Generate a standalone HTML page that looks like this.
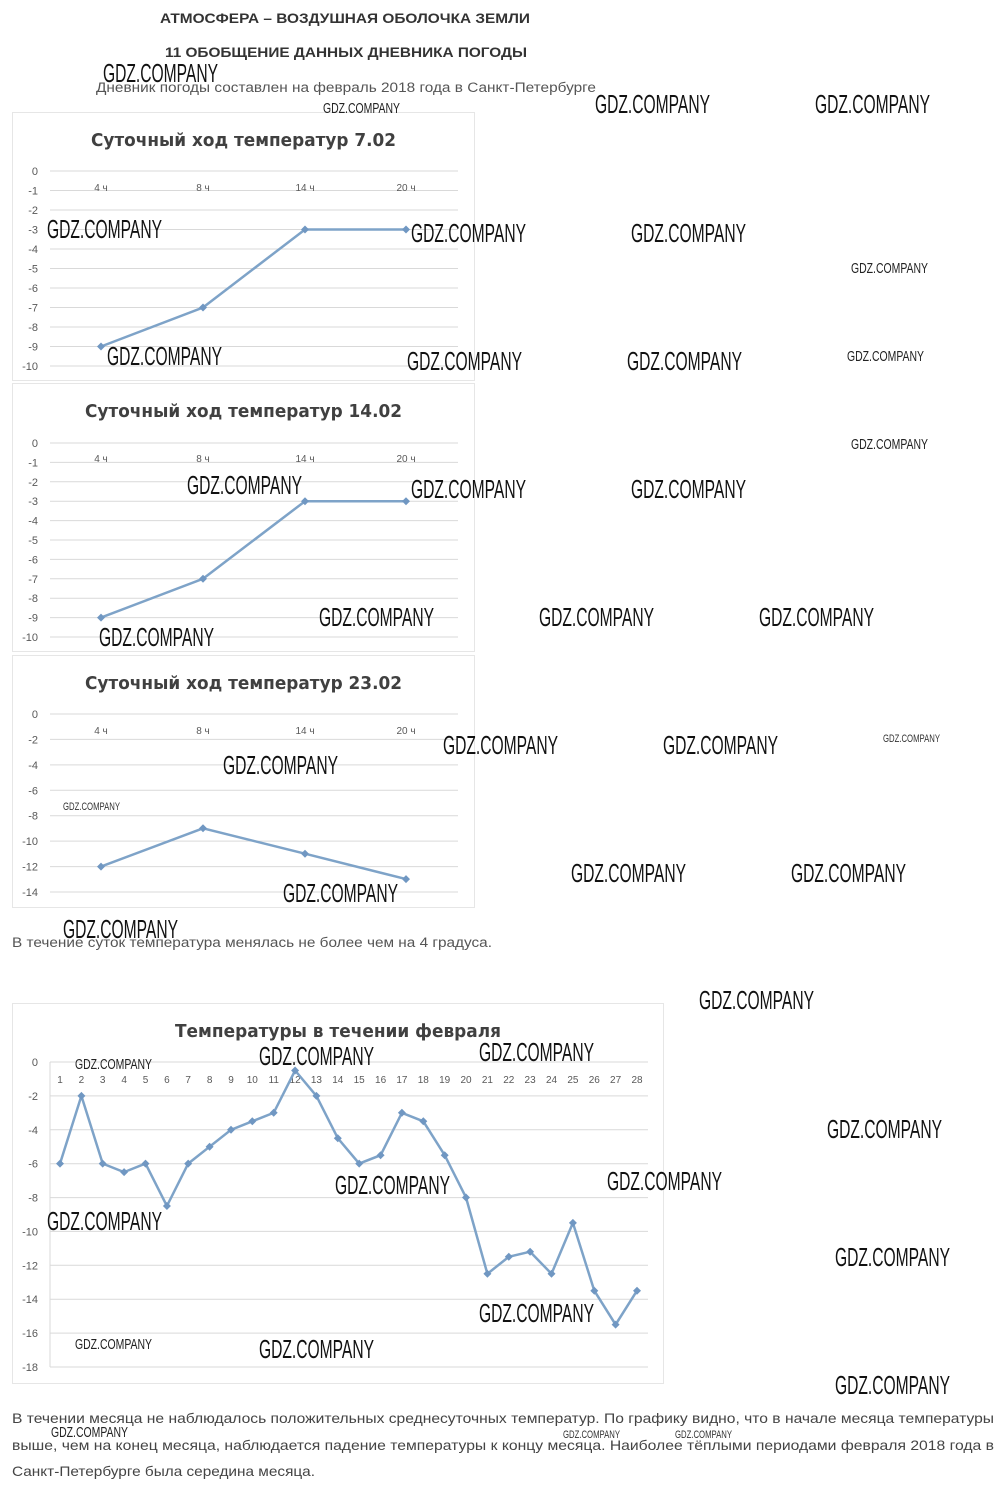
<!DOCTYPE html>
<html><head><meta charset="utf-8"><style>
html,body{margin:0;padding:0;background:#fff;}
svg{display:block;}
.t{font-family:"Liberation Sans",sans-serif;}
.ax{font-family:"Liberation Sans",sans-serif;font-size:11px;fill:#595959;}
.xl{font-family:"Liberation Sans",sans-serif;font-size:10px;fill:#595959;}
.ct{font-family:"DejaVu Sans","Liberation Sans",sans-serif;font-size:18px;font-weight:bold;fill:#404040;}
.wb{font-family:"Liberation Sans",sans-serif;font-size:26px;fill:#111;}
.ws{font-family:"Liberation Sans",sans-serif;font-size:15px;fill:#222;}
.wt{font-family:"Liberation Sans",sans-serif;font-size:11px;fill:#333;}
.g{stroke:#d9d9d9;stroke-width:1;}
.ln{fill:none;stroke:#7ea3c8;stroke-width:2.5;marker-start:url(#d);marker-mid:url(#d);marker-end:url(#d);}
</style></head><body>
<svg width="1000" height="1489" viewBox="0 0 1000 1489" xmlns="http://www.w3.org/2000/svg">
<defs><marker id="d" markerWidth="10" markerHeight="10" refX="5" refY="5" markerUnits="userSpaceOnUse"><path d="M5 1 L9 5 L5 9 L1 5Z" fill="#7097c2"/></marker></defs>

<text class="t" x="160" y="23" font-size="13.5" font-weight="bold" fill="#333" textLength="370" lengthAdjust="spacingAndGlyphs">АТМОСФЕРА – ВОЗДУШНАЯ ОБОЛОЧКА ЗЕМЛИ</text>
<text class="t" x="165" y="57" font-size="13.5" font-weight="bold" fill="#333" textLength="362" lengthAdjust="spacingAndGlyphs">11 ОБОБЩЕНИЕ ДАННЫХ ДНЕВНИКА ПОГОДЫ</text>
<text class="t" x="96" y="92" font-size="13.5" fill="#555" textLength="500" lengthAdjust="spacingAndGlyphs">Дневник погоды составлен на февраль 2018 года в Санкт-Петербурге</text>

<!-- Chart 1 -->
<rect x="12.5" y="112.5" width="462" height="268" fill="none" stroke="#e6e6e6"/>
<text class="ct" x="91" y="146" textLength="305" lengthAdjust="spacingAndGlyphs">Суточный ход температур 7.02</text>
<g class="g">
<line x1="50" y1="171" x2="458" y2="171"/><line x1="50" y1="190.5" x2="458" y2="190.5"/><line x1="50" y1="210" x2="458" y2="210"/><line x1="50" y1="229.5" x2="458" y2="229.5"/><line x1="50" y1="249" x2="458" y2="249"/><line x1="50" y1="268.5" x2="458" y2="268.5"/><line x1="50" y1="288" x2="458" y2="288"/><line x1="50" y1="307.5" x2="458" y2="307.5"/><line x1="50" y1="327" x2="458" y2="327"/><line x1="50" y1="346.5" x2="458" y2="346.5"/><line x1="50" y1="366" x2="458" y2="366"/>
</g>
<g class="ax" text-anchor="end">
<text x="38" y="175">0</text><text x="38" y="194.5">-1</text><text x="38" y="214">-2</text><text x="38" y="233.5">-3</text><text x="38" y="253">-4</text><text x="38" y="272.5">-5</text><text x="38" y="292">-6</text><text x="38" y="311.5">-7</text><text x="38" y="331">-8</text><text x="38" y="350.5">-9</text><text x="38" y="370">-10</text>
</g>
<g class="xl" text-anchor="middle"><text x="101" y="191">4 ч</text><text x="203" y="191">8 ч</text><text x="305" y="191">14 ч</text><text x="406" y="191">20 ч</text></g>
<polyline class="ln" points="101,346.5 203,307.5 305,229.5 406,229.5"/>

<!-- Chart 2 -->
<rect x="12.5" y="383.5" width="462" height="268" fill="none" stroke="#e6e6e6"/>
<text class="ct" x="85" y="417" textLength="317" lengthAdjust="spacingAndGlyphs">Суточный ход температур 14.02</text>
<g class="g">
<line x1="50" y1="443" x2="458" y2="443"/><line x1="50" y1="462.4" x2="458" y2="462.4"/><line x1="50" y1="481.8" x2="458" y2="481.8"/><line x1="50" y1="501.2" x2="458" y2="501.2"/><line x1="50" y1="520.6" x2="458" y2="520.6"/><line x1="50" y1="540" x2="458" y2="540"/><line x1="50" y1="559.4" x2="458" y2="559.4"/><line x1="50" y1="578.8" x2="458" y2="578.8"/><line x1="50" y1="598.2" x2="458" y2="598.2"/><line x1="50" y1="617.6" x2="458" y2="617.6"/><line x1="50" y1="637" x2="458" y2="637"/>
</g>
<g class="ax" text-anchor="end">
<text x="38" y="447">0</text><text x="38" y="466.4">-1</text><text x="38" y="485.8">-2</text><text x="38" y="505.2">-3</text><text x="38" y="524.6">-4</text><text x="38" y="544">-5</text><text x="38" y="563.4">-6</text><text x="38" y="582.8">-7</text><text x="38" y="602.2">-8</text><text x="38" y="621.6">-9</text><text x="38" y="641">-10</text>
</g>
<g class="xl" text-anchor="middle"><text x="101" y="462">4 ч</text><text x="203" y="462">8 ч</text><text x="305" y="462">14 ч</text><text x="406" y="462">20 ч</text></g>
<polyline class="ln" points="101,617.6 203,578.8 305,501.2 406,501.2"/>

<!-- Chart 3 -->
<rect x="12.5" y="655.5" width="462" height="252" fill="none" stroke="#e6e6e6"/>
<text class="ct" x="85" y="689" textLength="317" lengthAdjust="spacingAndGlyphs">Суточный ход температур 23.02</text>
<g class="g">
<line x1="50" y1="714" x2="458" y2="714"/><line x1="50" y1="739.4" x2="458" y2="739.4"/><line x1="50" y1="764.9" x2="458" y2="764.9"/><line x1="50" y1="790.3" x2="458" y2="790.3"/><line x1="50" y1="815.7" x2="458" y2="815.7"/><line x1="50" y1="841.1" x2="458" y2="841.1"/><line x1="50" y1="866.6" x2="458" y2="866.6"/><line x1="50" y1="892" x2="458" y2="892"/>
</g>
<g class="ax" text-anchor="end">
<text x="38" y="718">0</text><text x="38" y="743.4">-2</text><text x="38" y="768.9">-4</text><text x="38" y="794.3">-6</text><text x="38" y="819.7">-8</text><text x="38" y="845.1">-10</text><text x="38" y="870.6">-12</text><text x="38" y="896">-14</text>
</g>
<g class="xl" text-anchor="middle"><text x="101" y="734">4 ч</text><text x="203" y="734">8 ч</text><text x="305" y="734">14 ч</text><text x="406" y="734">20 ч</text></g>
<polyline class="ln" points="101,866.6 203,828.3 305,853.7 406,879.1"/>

<text class="t" x="12" y="947" font-size="13.5" fill="#555" textLength="480" lengthAdjust="spacingAndGlyphs">В течение суток температура менялась не более чем на 4 градуса.</text>

<!-- Chart 4 -->
<rect x="12.5" y="1003.5" width="651" height="380" fill="none" stroke="#e6e6e6"/>
<text class="ct" x="175" y="1037" textLength="326" lengthAdjust="spacingAndGlyphs">Температуры в течении февраля</text>
<g class="g">
<line x1="50" y1="1062" x2="648" y2="1062"/><line x1="50" y1="1095.9" x2="648" y2="1095.9"/><line x1="50" y1="1129.8" x2="648" y2="1129.8"/><line x1="50" y1="1163.7" x2="648" y2="1163.7"/><line x1="50" y1="1197.6" x2="648" y2="1197.6"/><line x1="50" y1="1231.4" x2="648" y2="1231.4"/><line x1="50" y1="1265.3" x2="648" y2="1265.3"/><line x1="50" y1="1299.2" x2="648" y2="1299.2"/><line x1="50" y1="1333.1" x2="648" y2="1333.1"/><line x1="50" y1="1367" x2="648" y2="1367"/>
<line x1="50" y1="1062" x2="50" y2="1367"/>
</g>
<g class="ax" text-anchor="end">
<text x="38" y="1066">0</text><text x="38" y="1099.9">-2</text><text x="38" y="1133.8">-4</text><text x="38" y="1167.7">-6</text><text x="38" y="1201.6">-8</text><text x="38" y="1235.4">-10</text><text x="38" y="1269.3">-12</text><text x="38" y="1303.2">-14</text><text x="38" y="1337.1">-16</text><text x="38" y="1371">-18</text>
</g>
<g class="xl" text-anchor="middle" font-size="11">
<text x="60" y="1083">1</text><text x="81.4" y="1083">2</text><text x="102.7" y="1083">3</text><text x="124.1" y="1083">4</text><text x="145.5" y="1083">5</text><text x="166.9" y="1083">6</text><text x="188.2" y="1083">7</text><text x="209.6" y="1083">8</text><text x="231" y="1083">9</text><text x="252.3" y="1083">10</text><text x="273.7" y="1083">11</text><text x="295.1" y="1083">12</text><text x="316.4" y="1083">13</text><text x="337.8" y="1083">14</text><text x="359.2" y="1083">15</text><text x="380.6" y="1083">16</text><text x="401.9" y="1083">17</text><text x="423.3" y="1083">18</text><text x="444.7" y="1083">19</text><text x="466" y="1083">20</text><text x="487.4" y="1083">21</text><text x="508.8" y="1083">22</text><text x="530.1" y="1083">23</text><text x="551.5" y="1083">24</text><text x="572.9" y="1083">25</text><text x="594.3" y="1083">26</text><text x="615.6" y="1083">27</text><text x="637" y="1083">28</text>
</g>
<polyline class="ln" points="60,1163.6 81.4,1095.9 102.7,1163.6 124.1,1172.1 145.5,1163.6 166.9,1206 188.2,1163.6 209.6,1146.7 231,1129.8 252.3,1121.3 273.7,1112.8 295.1,1070.5 316.4,1095.9 337.8,1138.2 359.2,1163.6 380.6,1155.2 401.9,1112.8 423.3,1121.3 444.7,1155.2 466,1197.5 487.4,1273.8 508.8,1256.8 530.1,1251.7 551.5,1273.8 572.9,1222.9 594.3,1290.7 615.6,1324.6 637,1290.7"/>

<g class="t" font-size="14" fill="#444">
<text x="12" y="1423" textLength="982" lengthAdjust="spacingAndGlyphs">В течении месяца не наблюдалось положительных среднесуточных температур. По графику видно, что в начале месяца температуры</text>
<text x="12" y="1450" textLength="982" lengthAdjust="spacingAndGlyphs">выше, чем на конец месяца, наблюдается падение температуры к концу месяца. Наиболее тёплыми периодами февраля 2018 года в</text>
<text x="12" y="1476" textLength="303" lengthAdjust="spacingAndGlyphs">Санкт-Петербурге была середина месяца.</text>
</g>

<!-- watermarks -->
<g class="wb">
<text x="103" y="82" textLength="115" lengthAdjust="spacingAndGlyphs">GDZ.COMPANY</text>
<text x="595" y="113" textLength="115" lengthAdjust="spacingAndGlyphs">GDZ.COMPANY</text>
<text x="815" y="113" textLength="115" lengthAdjust="spacingAndGlyphs">GDZ.COMPANY</text>
<text x="47" y="238" textLength="115" lengthAdjust="spacingAndGlyphs">GDZ.COMPANY</text>
<text x="411" y="242" textLength="115" lengthAdjust="spacingAndGlyphs">GDZ.COMPANY</text>
<text x="631" y="242" textLength="115" lengthAdjust="spacingAndGlyphs">GDZ.COMPANY</text>
<text x="107" y="365" textLength="115" lengthAdjust="spacingAndGlyphs">GDZ.COMPANY</text>
<text x="407" y="370" textLength="115" lengthAdjust="spacingAndGlyphs">GDZ.COMPANY</text>
<text x="627" y="370" textLength="115" lengthAdjust="spacingAndGlyphs">GDZ.COMPANY</text>
<text x="187" y="494" textLength="115" lengthAdjust="spacingAndGlyphs">GDZ.COMPANY</text>
<text x="411" y="498" textLength="115" lengthAdjust="spacingAndGlyphs">GDZ.COMPANY</text>
<text x="631" y="498" textLength="115" lengthAdjust="spacingAndGlyphs">GDZ.COMPANY</text>
<text x="319" y="626" textLength="115" lengthAdjust="spacingAndGlyphs">GDZ.COMPANY</text>
<text x="539" y="626" textLength="115" lengthAdjust="spacingAndGlyphs">GDZ.COMPANY</text>
<text x="759" y="626" textLength="115" lengthAdjust="spacingAndGlyphs">GDZ.COMPANY</text>
<text x="99" y="646" textLength="115" lengthAdjust="spacingAndGlyphs">GDZ.COMPANY</text>
<text x="443" y="754" textLength="115" lengthAdjust="spacingAndGlyphs">GDZ.COMPANY</text>
<text x="663" y="754" textLength="115" lengthAdjust="spacingAndGlyphs">GDZ.COMPANY</text>
<text x="223" y="774" textLength="115" lengthAdjust="spacingAndGlyphs">GDZ.COMPANY</text>
<text x="283" y="902" textLength="115" lengthAdjust="spacingAndGlyphs">GDZ.COMPANY</text>
<text x="571" y="882" textLength="115" lengthAdjust="spacingAndGlyphs">GDZ.COMPANY</text>
<text x="791" y="882" textLength="115" lengthAdjust="spacingAndGlyphs">GDZ.COMPANY</text>
<text x="63" y="938" textLength="115" lengthAdjust="spacingAndGlyphs">GDZ.COMPANY</text>
<text x="699" y="1009" textLength="115" lengthAdjust="spacingAndGlyphs">GDZ.COMPANY</text>
<text x="259" y="1065" textLength="115" lengthAdjust="spacingAndGlyphs">GDZ.COMPANY</text>
<text x="479" y="1061" textLength="115" lengthAdjust="spacingAndGlyphs">GDZ.COMPANY</text>
<text x="827" y="1138" textLength="115" lengthAdjust="spacingAndGlyphs">GDZ.COMPANY</text>
<text x="335" y="1194" textLength="115" lengthAdjust="spacingAndGlyphs">GDZ.COMPANY</text>
<text x="607" y="1190" textLength="115" lengthAdjust="spacingAndGlyphs">GDZ.COMPANY</text>
<text x="47" y="1230" textLength="115" lengthAdjust="spacingAndGlyphs">GDZ.COMPANY</text>
<text x="835" y="1266" textLength="115" lengthAdjust="spacingAndGlyphs">GDZ.COMPANY</text>
<text x="479" y="1322" textLength="115" lengthAdjust="spacingAndGlyphs">GDZ.COMPANY</text>
<text x="259" y="1358" textLength="115" lengthAdjust="spacingAndGlyphs">GDZ.COMPANY</text>
<text x="835" y="1394" textLength="115" lengthAdjust="spacingAndGlyphs">GDZ.COMPANY</text>
</g>
<g class="ws">
<text x="323" y="113" textLength="77" lengthAdjust="spacingAndGlyphs">GDZ.COMPANY</text>
<text x="851" y="273" textLength="77" lengthAdjust="spacingAndGlyphs">GDZ.COMPANY</text>
<text x="847" y="361" textLength="77" lengthAdjust="spacingAndGlyphs">GDZ.COMPANY</text>
<text x="851" y="449" textLength="77" lengthAdjust="spacingAndGlyphs">GDZ.COMPANY</text>
<text x="75" y="1069" textLength="77" lengthAdjust="spacingAndGlyphs">GDZ.COMPANY</text>
<text x="75" y="1349" textLength="77" lengthAdjust="spacingAndGlyphs">GDZ.COMPANY</text>
<text x="51" y="1437" textLength="77" lengthAdjust="spacingAndGlyphs">GDZ.COMPANY</text>
</g>
<g class="wt">
<text x="883" y="742" textLength="57" lengthAdjust="spacingAndGlyphs">GDZ.COMPANY</text>
<text x="63" y="810" textLength="57" lengthAdjust="spacingAndGlyphs">GDZ.COMPANY</text>
<text x="563" y="1438" textLength="57" lengthAdjust="spacingAndGlyphs">GDZ.COMPANY</text>
<text x="675" y="1438" textLength="57" lengthAdjust="spacingAndGlyphs">GDZ.COMPANY</text>
</g>
</svg>
</body></html>
